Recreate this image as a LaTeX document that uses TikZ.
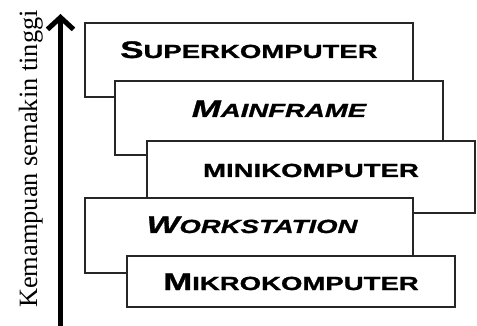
\documentclass[tikz,border=0pt]{standalone}
\usepackage{fontspec}
\usetikzlibrary{arrows.meta}
\setmainfont{Liberation Serif}
% wide bold face for the box titles (small-caps look built from two sizes)
\newfontfamily\wideBold[FakeStretch=1.45,FakeBold=1.2]{Liberation Sans Bold}
\newfontfamily\wideBoldIt[FakeStretch=1.45,FakeBold=1.2]{Liberation Sans Bold Italic}
\newcommand\capA[1]{{\fontsize{24pt}{24pt}\selectfont #1}}
\newcommand\capB[1]{{\fontsize{19pt}{19pt}\selectfont #1}}

\begin{document}
\begin{tikzpicture}[x=1pt,y=-1pt,
  tier/.style={draw=black!85, line width=1.2pt, fill=white, inner sep=0pt, outer sep=0pt,
               minimum width=328pt, anchor=north west},
  title/.style={anchor=base, inner sep=0pt, font=\wideBold},
  titleit/.style={anchor=base, inner sep=0pt, font=\wideBoldIt},
  axislabel/.style={rotate=90, anchor=base, inner sep=0pt, font=\fontsize{26.4pt}{28pt}\selectfont},
  axisarrow/.style={line width=5pt, -{Straight Barb[length=12pt,width=26pt]}}]
\useasboundingbox (0,0) rectangle (477,326);

% stacked tiers, drawn from top to bottom so each one overlaps the previous
\node[tier, minimum height=74pt] (super) at (85,23) {};
\node[tier, minimum height=74pt] (main)  at (115,81) {};
\node[tier, minimum height=72pt] (mini)  at (147,141) {};
\node[tier, minimum height=75pt] (work)  at (85,198) {};
\node[tier, minimum height=51pt] (mikro) at (127,256) {};

\node[title]   (tsuper) at (249,58)  {\capA{S}\capB{UPERKOMPUTER}};
\node[titleit] (tmain)  at (279,117) {\capA{M}\capB{AINFRAME}};
\node[title]   (tmini)  at (311,177) {\capB{MINIKOMPUTER}};
\node[titleit] (twork)  at (252,233) {\capA{W}\capB{ORKSTATION}};
\node[title]   (tmikro) at (291,290) {\capA{M}\capB{IKROKOMPUTER}};

% capability axis
\coordinate (abot) at (60.5,326);
\coordinate (atop) at (60.5,14);
\draw[axisarrow] (abot) -- (atop);
\node[axislabel] (axis) at (37,159) {Kemampuan semakin tinggi};
\end{tikzpicture}
\end{document}
